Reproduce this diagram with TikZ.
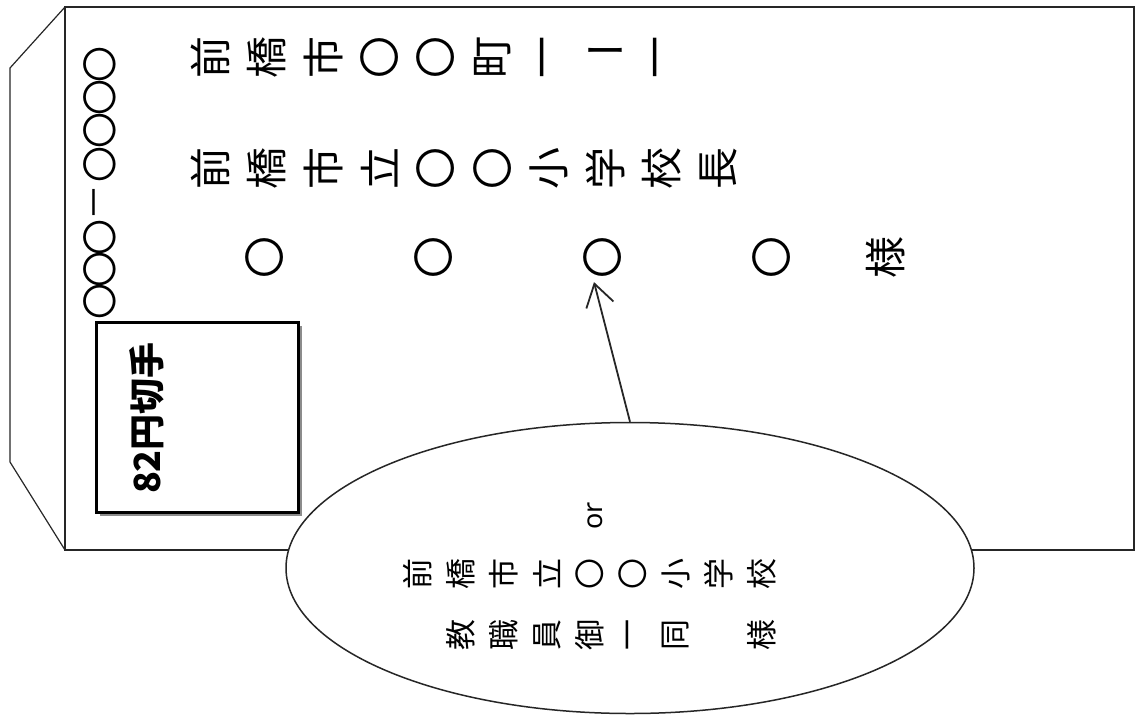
\documentclass[tikz,border=0pt]{standalone}
\usepackage{fontspec}
\newfontfamily\jp{Noto Sans CJK JP}
\newfontfamily\latinsans{Noto Sans}
\usetikzlibrary{shapes.geometric,arrows.meta}
\begin{document}
\begin{tikzpicture}[x=1pt,y=-1pt,
  vch/.style={rotate=90, inner sep=0pt, font=\jp\fontsize{42}{42}\selectfont},
  vdash/.style={inner sep=0pt, font=\jp\fontsize{42}{42}\selectfont},
  pch/.style={rotate=90, inner sep=0pt, font=\jp\fontsize{36}{36}\selectfont},
  ech/.style={rotate=90, inner sep=0pt, font=\jp\fontsize{31}{31}\selectfont},
  envline/.style={line width=2pt, draw=black!85},
  flapline/.style={line width=1.2pt, draw=black!85}]
\useasboundingbox (0,0) rectangle (1137,715);
\fill[white] (0,0) rectangle (1137,715);
% envelope
\draw[envline] (65,7) rectangle (1134,550);
\draw[flapline] (65,7) -- (10,68) -- (10,462) -- (65,550);
% postal code
\foreach \c/\y [count=\i] in {〇/64,〇/97,〇/130,〇/164,－/202,〇/237,〇/269,〇/301}
  \node[pch] (p\i) at (100,\y) {\c};
% address
\foreach \c [count=\i] in {前,橋,市,〇,〇,町,一}
  \node[vch] (a\i) at ({210+56.5*(\i-1)},57) {\c};
\node[vdash] (a8) at (605.5,57) {ー};
\node[vch] (a9) at (662,57) {一};
\foreach \c [count=\i] in {前,橋,市,立,〇,〇,小,学,校,長}
  \node[vch] (b\i) at ({210+56.5*(\i-1)},168) {\c};
\foreach \c/\x [count=\i] in {〇/265,〇/434,〇/603,〇/772,様/886}
  \node[vch] (n\i) at (\x,257) {\c};
% stamp
\fill[black!45] (100,326) rectangle (302,516);
\node[draw, line width=3pt, fill=white, minimum width=202pt, minimum height=190pt, inner sep=0pt] (stamp) at (197,417) {};
\node[rotate=90, inner sep=0pt, font=\jp\bfseries\fontsize{36}{36}\selectfont] (stxt) at (147,418) {82円切手};
% balloon
\node[draw, ellipse, line width=1.5pt, draw=black!85, fill=white, minimum width=688pt, minimum height=291pt, inner sep=0pt] (ell) at (630,568) {};
\node[rotate=90, inner sep=0pt, font=\latinsans\fontsize{27}{27}\selectfont] (or) at (595,516) {or};
\foreach \c [count=\i] in {前,橋,市,立,〇,〇,小,学,校}
  \node[ech] (c\i) at ({418+43*(\i-1)},574) {\c};
\foreach \c/\k [count=\i] in {教/1,職/2,員/3,御/4,一/5,同/6,様/8}
  \node[ech] (d\i) at ({418+43*\k},635) {\c};
% arrow
\draw[line width=1.8pt, draw=black!85, shorten >=4pt, -{Straight Barb[length=22pt,width=28pt]}] (ell.north) -- ([xshift=-10pt]n3.west);
\end{tikzpicture}
\end{document}
